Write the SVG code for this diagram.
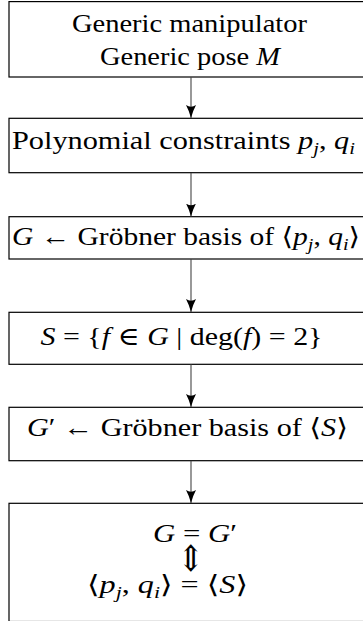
<svg xmlns="http://www.w3.org/2000/svg" width="363" height="621" viewBox="0 0 363 621">
<style>
.box{fill:#fff;stroke:#000;stroke-width:1.2}
.t{font-family:"Liberation Serif","DejaVu Serif",serif;font-size:25px;fill:#000}
.i{font-style:italic}
.sub{font-size:17px;font-style:italic}
.conn line{stroke:#444;stroke-width:1.1}
.sym{font-family:"DejaVu Serif","DejaVu Sans",serif}
.big{font-family:"DejaVu Serif","DejaVu Sans",serif;font-size:24px;fill:#000}
</style>
<defs>
<marker id="ah" viewBox="0 0 14 12" refX="13" refY="6" markerWidth="14" markerHeight="12" markerUnits="userSpaceOnUse" orient="auto">
<path d="M0,1 Q6,4.2 13,6 Q6,7.8 0,11 Q3.5,6 0,1 Z" fill="#000"/>
</marker>
</defs>
<g id="n1">
<rect class="box" x="9" y="1.6" width="370" height="75.4"/>
<text class="t" x="72" y="31.5" textLength="235" lengthAdjust="spacingAndGlyphs">Generic manipulator</text>
<text class="t" x="100" y="65" textLength="180" lengthAdjust="spacingAndGlyphs">Generic pose <tspan class="i">M</tspan></text>
</g>
<g id="n2">
<rect class="box" x="9" y="118.3" width="370" height="54.4"/>
<text class="t" x="12" y="149" textLength="343" lengthAdjust="spacingAndGlyphs">Polynomial constraints <tspan class="i">p</tspan><tspan class="sub" dy="5">j</tspan><tspan dy="-5">, </tspan><tspan class="i">q</tspan><tspan class="sub" dy="5">i</tspan></text>
</g>
<g id="n3">
<rect class="box" x="9" y="216.7" width="370" height="42.3"/>
<text class="t" x="12" y="245" textLength="348" lengthAdjust="spacingAndGlyphs"><tspan class="i">G</tspan> ← Gröbner basis of <tspan class="sym">⟨</tspan><tspan class="i">p</tspan><tspan class="sub" dy="5">j</tspan><tspan dy="-5">, </tspan><tspan class="i">q</tspan><tspan class="sub" dy="5">i</tspan><tspan class="sym" dy="-5">⟩</tspan></text>
</g>
<g id="n4">
<rect class="box" x="9" y="312.3" width="370" height="52"/>
<text class="t" x="40.5" y="345" textLength="282" lengthAdjust="spacingAndGlyphs"><tspan class="i">S</tspan> = {<tspan class="i">f</tspan> ∈ <tspan class="i">G</tspan> |  deg(<tspan class="i">f</tspan>) = 2}</text>
</g>
<g id="n5">
<rect class="box" x="9" y="407.3" width="370" height="53.4"/>
<text class="t" x="27" y="436" textLength="321" lengthAdjust="spacingAndGlyphs"><tspan class="i">G</tspan>′ ← Gröbner basis of <tspan class="sym">⟨</tspan><tspan class="i">S</tspan><tspan class="sym">⟩</tspan></text>
</g>
<g id="n6">
<rect class="box" x="9" y="503.3" width="370" height="118.2"/>
<text class="t" x="153" y="542" textLength="84" lengthAdjust="spacingAndGlyphs"><tspan class="i">G</tspan> = <tspan class="i">G</tspan>′</text>
<text class="big" text-anchor="middle" transform="translate(190.5,571) scale(1.35,1.5)">⇕</text>
<text class="t" x="87" y="593" textLength="161" lengthAdjust="spacingAndGlyphs"><tspan class="sym">⟨</tspan><tspan class="i">p</tspan><tspan class="sub" dy="5">j</tspan><tspan dy="-5">, </tspan><tspan class="i">q</tspan><tspan class="sub" dy="5">i</tspan><tspan class="sym" dy="-5">⟩</tspan> = <tspan class="sym">⟨</tspan><tspan class="i">S</tspan><tspan class="sym">⟩</tspan></text>
</g>
<g id="connectors" class="conn">
<line x1="191" y1="77" x2="191" y2="118" marker-end="url(#ah)"/>
<line x1="191" y1="173" x2="191" y2="216.5" marker-end="url(#ah)"/>
<line x1="191" y1="259" x2="191" y2="312" marker-end="url(#ah)"/>
<line x1="191" y1="364.3" x2="191" y2="407" marker-end="url(#ah)"/>
<line x1="191" y1="460.7" x2="191" y2="503" marker-end="url(#ah)"/>
</g>
</svg>
